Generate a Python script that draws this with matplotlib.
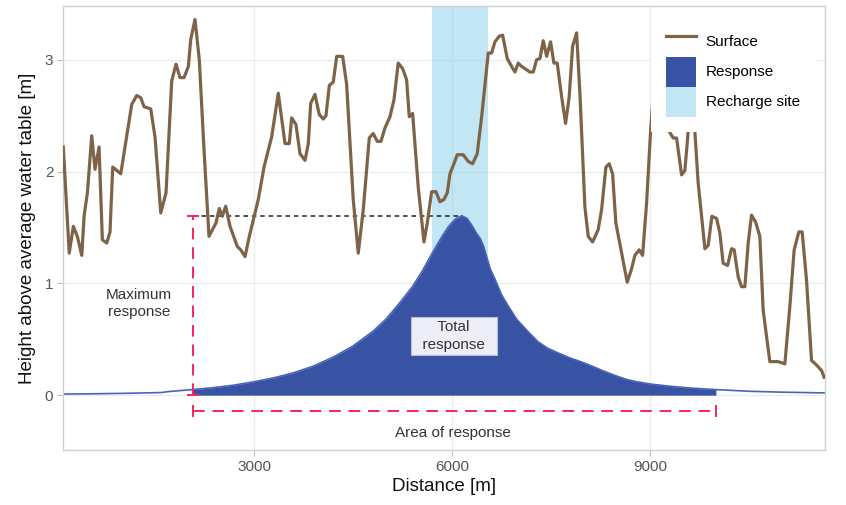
import numpy as np
from matplotlib import pyplot as plt
from matplotlib.patches import Patch
from matplotlib.lines import Line2D

# ground surface above the average water table
surface_x = [110, 200, 262, 323, 390, 425, 475, 541, 591, 652, 702, 768, 818, 859, 981,
             1147, 1223, 1284, 1334, 1435, 1500, 1587, 1667, 1753, 1818, 1879, 1940, 2005,
             2041, 2106, 2171, 2243, 2318, 2424, 2474, 2520, 2571, 2637, 2747, 2799, 2864,
             2929, 3065, 3152, 3268, 3368, 3470, 3535, 3571, 3636, 3697, 3773, 3823, 3859,
             3924, 3989, 4050, 4091, 4141, 4201, 4253, 4344, 4404, 4504, 4580, 4656, 4747,
             4807, 4868, 4924, 4985, 5060, 5121, 5186, 5253, 5313, 5353, 5404, 5489, 5576,
             5626, 5692, 5757, 5818, 5879, 5929, 5970, 6030, 6080, 6171, 6247, 6313, 6383,
             6450, 6550, 6601, 6651, 6716, 6768, 6838, 6904, 6954, 7004, 7056, 7182, 7232,
             7283, 7333, 7383, 7435, 7495, 7545, 7595, 7662, 7722, 7777, 7828, 7889, 7939,
             8015, 8065, 8131, 8216, 8268, 8333, 8383, 8434, 8484, 8571, 8656, 8722, 8772,
             8837, 8889, 8950, 9010, 9075, 9181, 9257, 9292, 9352, 9404, 9480, 9530, 9580,
             9620, 9681, 9731, 9783, 9833, 9883, 9939, 10010, 10060, 10110, 10177, 10237,
             10277, 10337, 10389, 10439, 10489, 10540, 10601, 10666, 10716, 10817, 10943,
             11045, 11120, 11186, 11257, 11307, 11373, 11449, 11525, 11601, 11640]
surface_y = [2.22, 1.27, 1.51, 1.42, 1.25, 1.60, 1.81, 2.32, 2.02, 2.22, 1.39, 1.36, 1.46,
             2.04, 1.98, 2.60, 2.68, 2.66, 2.58, 2.56, 2.31, 1.63, 1.81, 2.81, 2.96, 2.84,
             2.84, 2.94, 3.18, 3.36, 3.00, 2.19, 1.42, 1.54, 1.67, 1.60, 1.69, 1.51, 1.33,
             1.30, 1.24, 1.42, 1.75, 2.04, 2.31, 2.70, 2.25, 2.25, 2.48, 2.42, 2.16, 2.10,
             2.25, 2.61, 2.69, 2.51, 2.47, 2.50, 2.77, 2.80, 3.03, 3.03, 2.78, 1.75, 1.27,
             1.66, 2.30, 2.34, 2.27, 2.27, 2.39, 2.49, 2.64, 2.97, 2.92, 2.82, 2.49, 2.52,
             1.86, 1.37, 1.54, 1.82, 1.82, 1.73, 1.75, 1.81, 1.98, 2.07, 2.15, 2.15, 2.09,
             2.07, 2.16, 2.49, 3.06, 3.06, 3.16, 3.21, 3.22, 3.01, 2.94, 2.89, 2.97, 2.94,
             2.89, 2.89, 3.00, 3.01, 3.17, 3.03, 3.16, 2.97, 2.97, 2.67, 2.43, 2.67, 3.12,
             3.24, 2.70, 1.68, 1.42, 1.37, 1.48, 1.66, 2.04, 2.07, 1.98, 1.54, 1.27, 1.01,
             1.13, 1.25, 1.30, 1.25, 1.72, 2.36, 2.90, 2.80, 2.50, 2.36, 2.30, 2.30, 1.97,
             2.01, 2.36, 2.60, 2.36, 1.90, 1.60, 1.31, 1.34, 1.60, 1.58, 1.45, 1.18, 1.16,
             1.31, 1.30, 1.06, 0.97, 0.97, 1.36, 1.61, 1.55, 1.42, 0.76, 0.30, 0.30, 0.28,
             0.79, 1.30, 1.46, 1.46, 1.03, 0.31, 0.27, 0.22, 0.16]

# water table response to recharge
resp_x = [110, 500, 1000, 1500, 1600, 1700, 2070, 2400, 2700, 3000, 3300, 3600, 3900,
          4200, 4500, 4800, 5000, 5200, 5400, 5550, 5700, 5850, 5950, 6050, 6150, 6230,
          6300, 6370, 6430, 6480, 6530, 6580, 6650, 6750, 6850, 6980, 7150, 7300, 7450,
          7600, 7800, 7950, 8100, 8300, 8500, 8650, 8800, 9000, 9300, 9650, 10000, 10500,
          11000, 11650]
resp_y = [0.010, 0.012, 0.016, 0.022, 0.024, 0.032, 0.050, 0.068, 0.090, 0.120, 0.155,
          0.200, 0.260, 0.340, 0.440, 0.570, 0.680, 0.820, 0.970, 1.110, 1.270, 1.420,
          1.510, 1.575, 1.605, 1.580, 1.520, 1.450, 1.400, 1.330, 1.230, 1.130, 1.040,
          0.900, 0.800, 0.680, 0.570, 0.480, 0.420, 0.380, 0.330, 0.300, 0.265, 0.215,
          0.170, 0.140, 0.120, 0.100, 0.080, 0.062, 0.050, 0.035, 0.027, 0.020]

site_start, site_end = 5700, 6550
area_start, area_end = 2070, 10000
peak_x = 6150
max_response = 1.60
area_level = -0.14

brown = '#7D6449'
dark_blue = '#3953A4'
red = '#F8245A'
sky = '#87CEEB'

plt.rcParams['font.family'] = ['Liberation Sans', 'DejaVu Sans']

fig = plt.figure(figsize=(8.46, 5.05), dpi=100)
ax = fig.add_axes([0.0745, 0.109, 0.9005, 0.879])

ymin, ymax = -0.49, 3.48
ax.fill_between([site_start, site_end], 0, ymax + 1, color=sky, alpha=0.5, lw=0,
                zorder=1)

rx = np.array(resp_x)
ry = np.array(resp_y)
ax.fill_between(rx, 0, ry, where=(rx >= area_start) & (rx <= area_end),
                color=dark_blue, lw=0, zorder=2)
ax.plot(rx, ry, color='#4764BC', lw=1.2, zorder=2)

ax.plot(surface_x, surface_y, color=brown, lw=2.3, zorder=4, solid_joinstyle='round')

# maximum response marker
ax.plot([area_start, peak_x], [max_response, max_response], color='#222222',
        lw=1.1, ls=(0, (3, 2.5)), zorder=3)
ax.plot([area_start, area_start], [0, max_response], color=red, lw=1.4,
        ls=(0, (6, 4)), zorder=3)
ax.plot([area_start, area_start], [0, max_response], ls='none', marker='_',
        ms=8, mew=1.4, color=red, zorder=3)
ax.plot([area_start, area_end], [area_level, area_level], color=red, lw=1.4,
        ls=(0, (6, 4)), zorder=3)
ax.plot([area_start, area_end], [area_level, area_level], ls='none', marker='|',
        ms=8, mew=1.4, color=red, zorder=3)

ax.text(1258, 0.82, 'Maximum\nresponse', ha='center', va='center', fontsize=11,
        color='#333333', linespacing=1.3)
ax.text(6015, -0.34, 'Area of response', ha='center', va='center', fontsize=11,
        color='#333333')
ax.text(6030, 0.53, '  Total  \n  response  ', ha='center', va='center', fontsize=11,
        color='#333333', linespacing=1.3, zorder=5,
        bbox=dict(boxstyle='square,pad=0.2', fc='#ECEDF7', ec='#B8BCD0', lw=0.8))

ax.set_xlim(106, 11651)
ax.set_ylim(ymin, ymax)
ax.set_xticks([3000, 6000, 9000])
ax.set_yticks([0, 1, 2, 3])
ax.grid(True, color='#EBEBEB', lw=0.9, zorder=0)
ax.set_axisbelow(True)
for s in ax.spines.values():
    s.set_color('#D0D0D0')
    s.set_linewidth(1.0)
ax.tick_params(length=4, width=0.8, color='#BBBBBB', labelsize=11,
               labelcolor='#555555', pad=3)
ax.set_xlabel('Distance [m]', fontsize=13.5, color='#111111', labelpad=3)
ax.set_ylabel('Height above average water table [m]', fontsize=13.5,
              color='#111111', labelpad=6)

handles = [Line2D([0], [0], color=brown, lw=2.3),
           Patch(facecolor=dark_blue, edgecolor='none'),
           Patch(facecolor=sky, alpha=0.5, edgecolor='none')]
leg = ax.legend(handles, ['Surface', 'Response', 'Recharge site'], loc='upper right',
                bbox_to_anchor=(0.987, 0.988), borderaxespad=0, borderpad=1.0,
                fontsize=11, handlelength=1.95, handleheight=2.65, labelspacing=0,
                handletextpad=0.65, frameon=True, fancybox=False, framealpha=1,
                edgecolor='none', facecolor='white')
leg.set_zorder(6)

plt.savefig('out.png', dpi=100)
